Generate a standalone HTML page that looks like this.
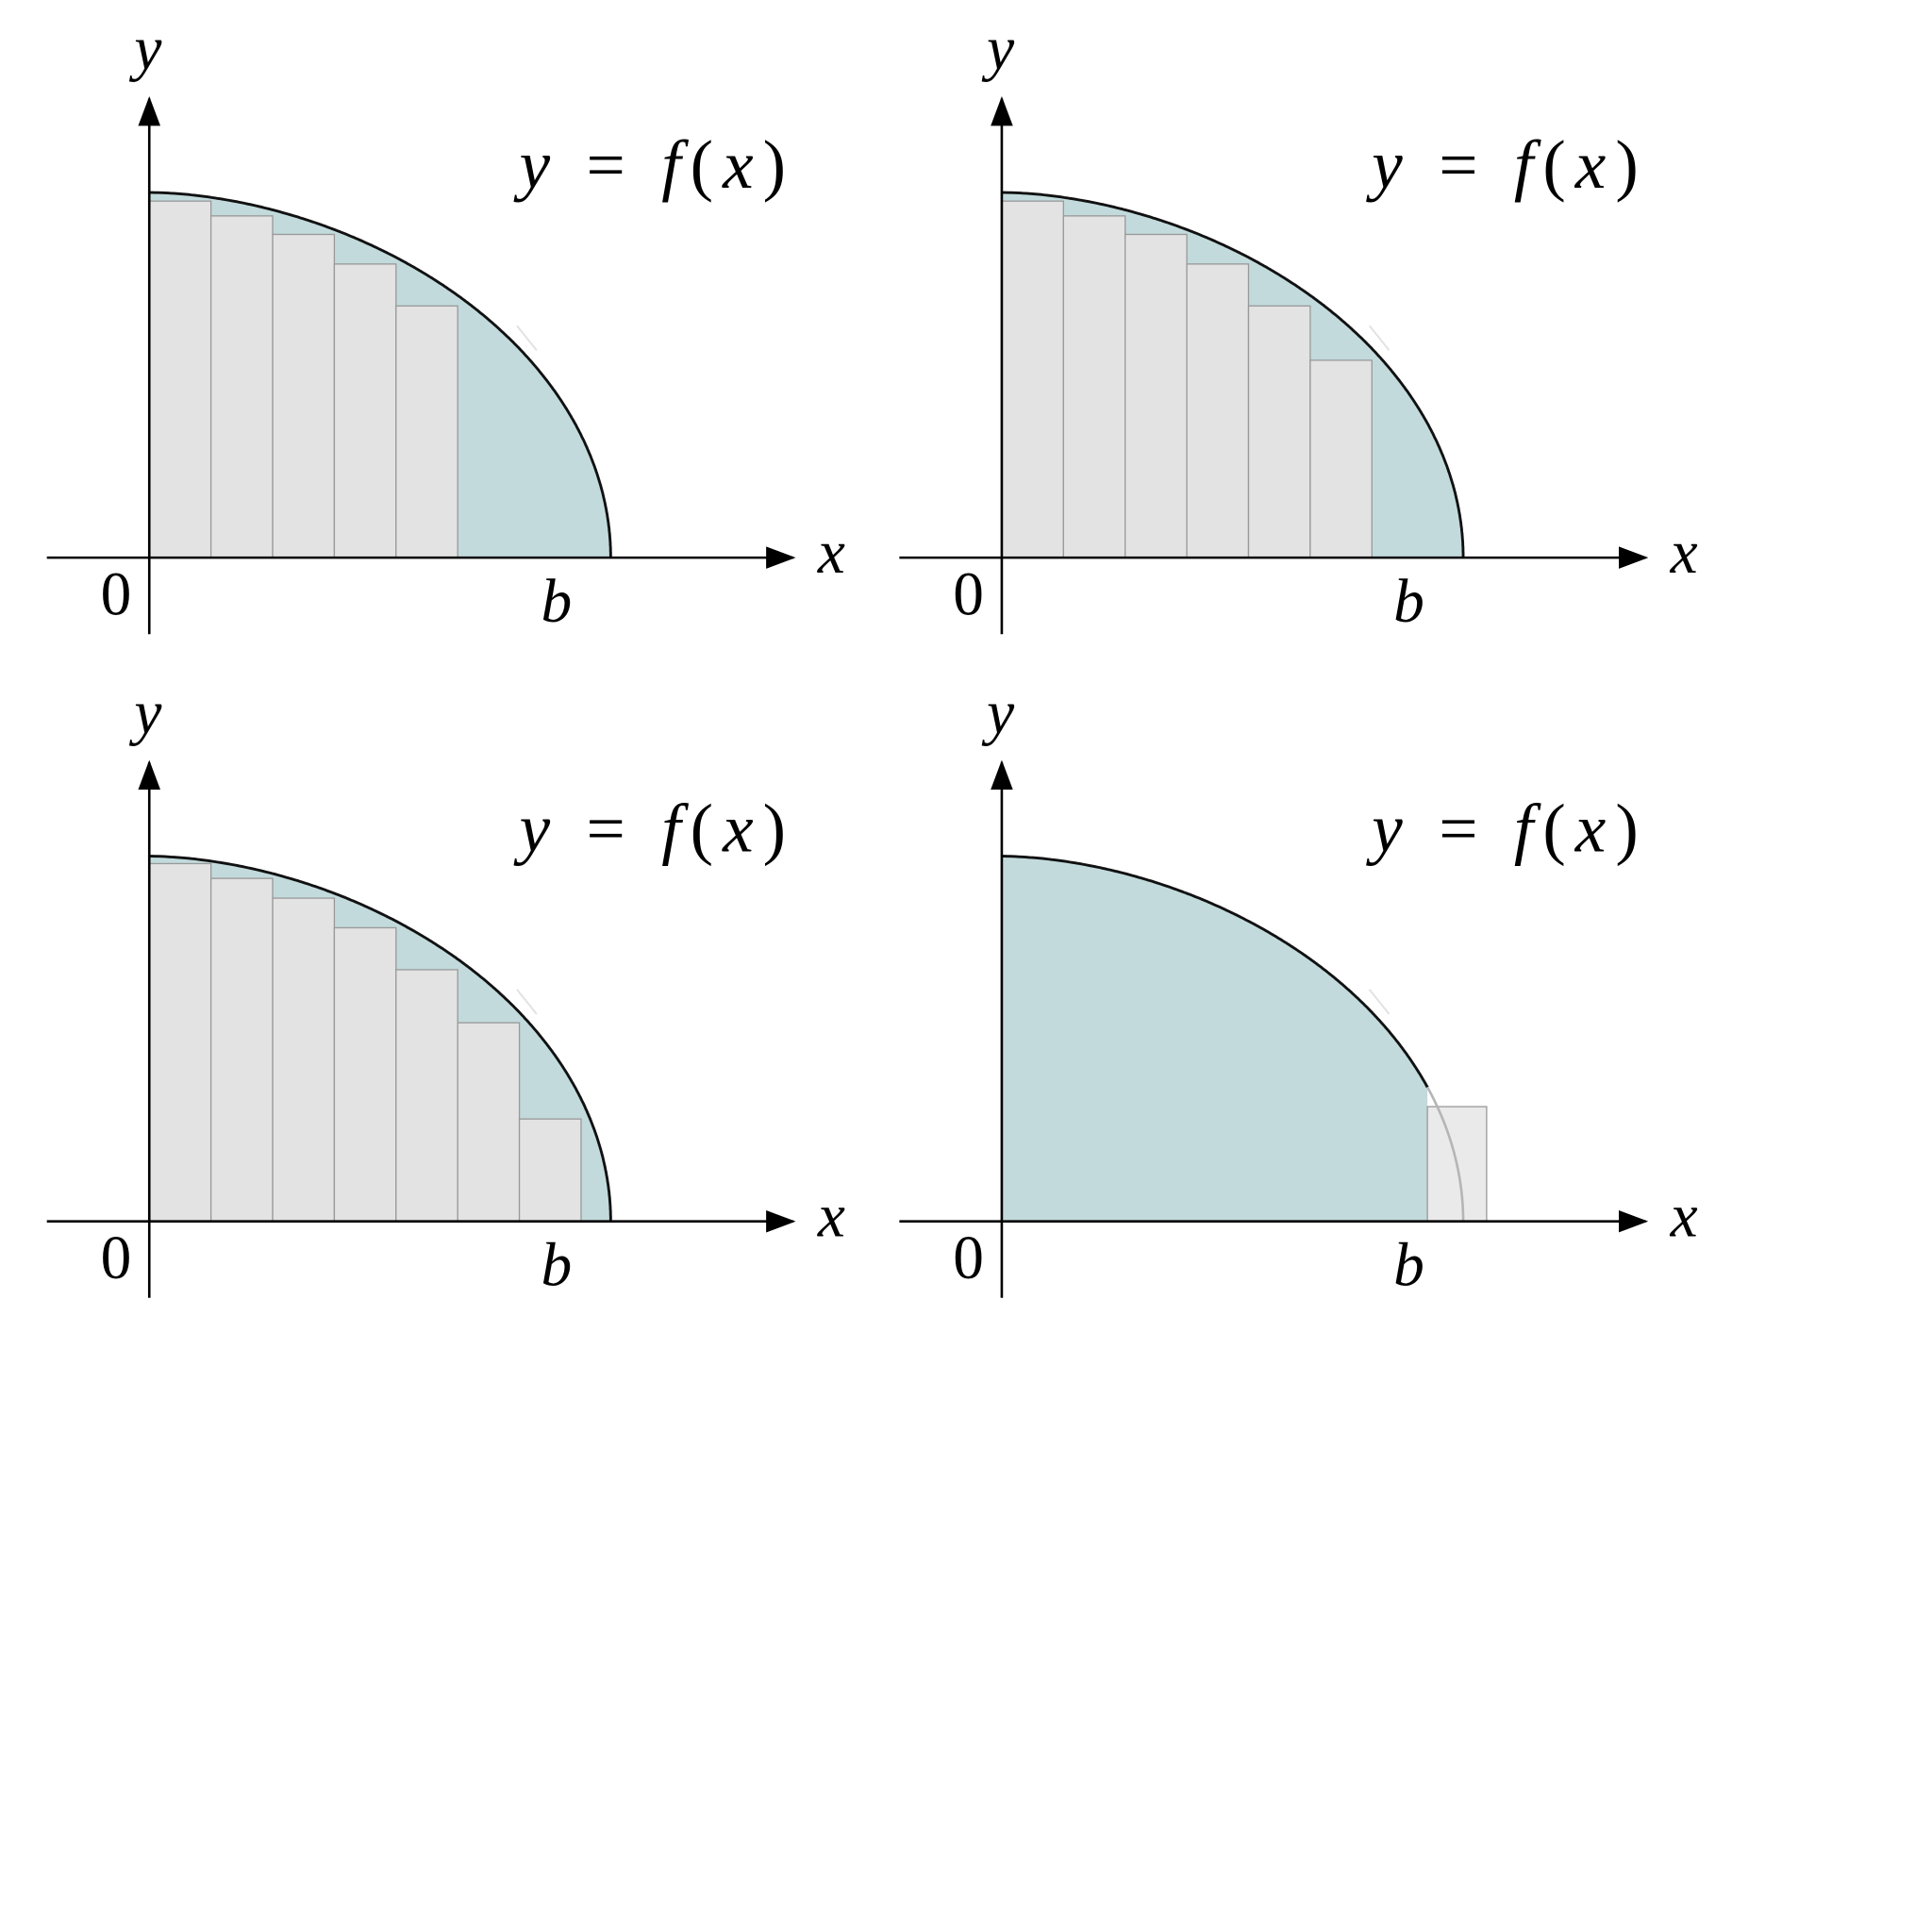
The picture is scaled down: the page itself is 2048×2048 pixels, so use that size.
<!DOCTYPE html>
<html><head><meta charset="utf-8"><style>
html,body{margin:0;padding:0;background:#fff;}
svg{display:block;}
text{font-family:"Liberation Serif",serif;fill:#000;}
</style></head>
<body>
<svg id="fig" width="2048" height="2048" viewBox="0 0 1566 1566" xmlns="http://www.w3.org/2000/svg">
<defs><marker id="arr" markerWidth="24" markerHeight="20" refX="22" refY="9" orient="auto" markerUnits="userSpaceOnUse" viewBox="0 0 24 18"><path d="M0,0 L24,9 L0,18 z" fill="#000"/></marker></defs>
</svg>
<script>
const panelNames = ['panel-top-left','panel-top-right','panel-bottom-left','panel-bottom-right'];
// Rectangle heights (curve height at x=0 is ~296)
const rectsTL = [289, 277, 262, 238, 204];
const rectsTR = [289, 277, 262, 238, 204, 160];
const rectsBL = [290, 278, 262, 238, 204, 161, 83];
const rectsBR = [93];
const curveA = 374, curveB = 296, curveP = 1.8, slabW = 50;
const brStart = 345, brWidth = 48;

const svg = document.getElementById('fig');
const NS = 'http://www.w3.org/2000/svg';
function el(tag, attrs, parent){const e=document.createElementNS(NS,tag);for(const k in attrs)e.setAttribute(k,attrs[k]);(parent||svg).appendChild(e);return e;}

function fh(dx){const t=Math.min(dx/curveA,1);return curveB*Math.sqrt(Math.max(0,1-Math.pow(t,curveP)));}
function curvePts(ox,oy,x0,x1){let p=[];for(let i=0;i<=300;i++){const s=i/300;const u=1-(1-s)*(1-s);const dx=x0+(x1-x0)*u;p.push([ox+dx,oy-fh(dx)]);}return p;}

function panel(idx, ox, oy, rects, full){
  const g=el('g',{});
  
  
  const xEnd=full?brStart:curveA;
  let pts=curvePts(ox,oy,0,xEnd);
  let d='M'+ox+','+oy+' '+pts.map(p=>'L'+p[0].toFixed(1)+','+p[1].toFixed(1)).join(' ')+' L'+(ox+xEnd)+','+oy+' Z';
  const area=el('path',{d:d,fill:'#c2dadc',stroke:'none'},g);
  
  
  rects.forEach((h,i)=>{
    const x=full?ox+brStart:ox+i*slabW, w=full?brWidth:slabW;
    const r=el('rect',{x:x,y:oy-h,width:w,height:h,fill:full?'#e6e6e6':'#e3e3e3','fill-opacity':full?0.85:1,stroke:'#999','stroke-width':1},g);
    
    
  });
  const c=el('polyline',{points:pts.map(p=>p.map(v=>v.toFixed(1)).join(',')).join(' '),fill:'none',stroke:'#111','stroke-width':2.2},g);
  
  
  if(full){const cp2=curvePts(ox,oy,brStart,curveA);
    const c2=el('polyline',{points:cp2.map(p=>p.map(v=>v.toFixed(1)).join(',')).join(' '),fill:'none',stroke:'#b5b5b5','stroke-width':2},g);
    
    }
  el('path',{d:`M${ox+298},${oy-188} L${ox+314},${oy-168}`,stroke:'#e2e2e2','stroke-width':1.5,fill:'none'},g);
  const xa=el('line',{x1:ox-83,y1:oy,x2:ox+522,y2:oy,stroke:'#000','stroke-width':2,'marker-end':'url(#arr)'},g);
  
  
  const ya=el('line',{x1:ox,y1:oy+62,x2:ox,y2:oy-372,stroke:'#000','stroke-width':2,'marker-end':'url(#arr)'},g);
  
  
  const labels=[['y',ox-1,oy-396,'italic','y-axis-label'],['x',ox+553,oy+12,'italic','x-axis-label'],['0',ox-27,oy+46,'normal','origin-label'],['b',ox+330,oy+52,'italic','b-label']];
  labels.forEach(l=>{const t=el('text',{x:l[1],y:l[2],'font-size':50,'text-anchor':'middle',style:'font-style:'+l[3]},g);
    t.textContent=l[0];
    
    });
  const ft=el('text',{x:ox+300,y:oy-300,'font-size':56,'xml:space':'preserve'},g);
  
  
  [['y','italic'],[' = ','normal'],[' f','italic'],['(','normal'],['x','italic'],[')','normal']].forEach(s=>{
    const ts=el('tspan',{style:'font-style:'+s[1]},ft);ts.textContent=s[0];});
  ft.setAttribute('textLength',216);
}
panel(0,121,452,rectsTL,false);
panel(1,812,452,rectsTR,false);
panel(2,121,990,rectsBL,false);
panel(3,812,990,rectsBR,true);
</script>
</body></html>
